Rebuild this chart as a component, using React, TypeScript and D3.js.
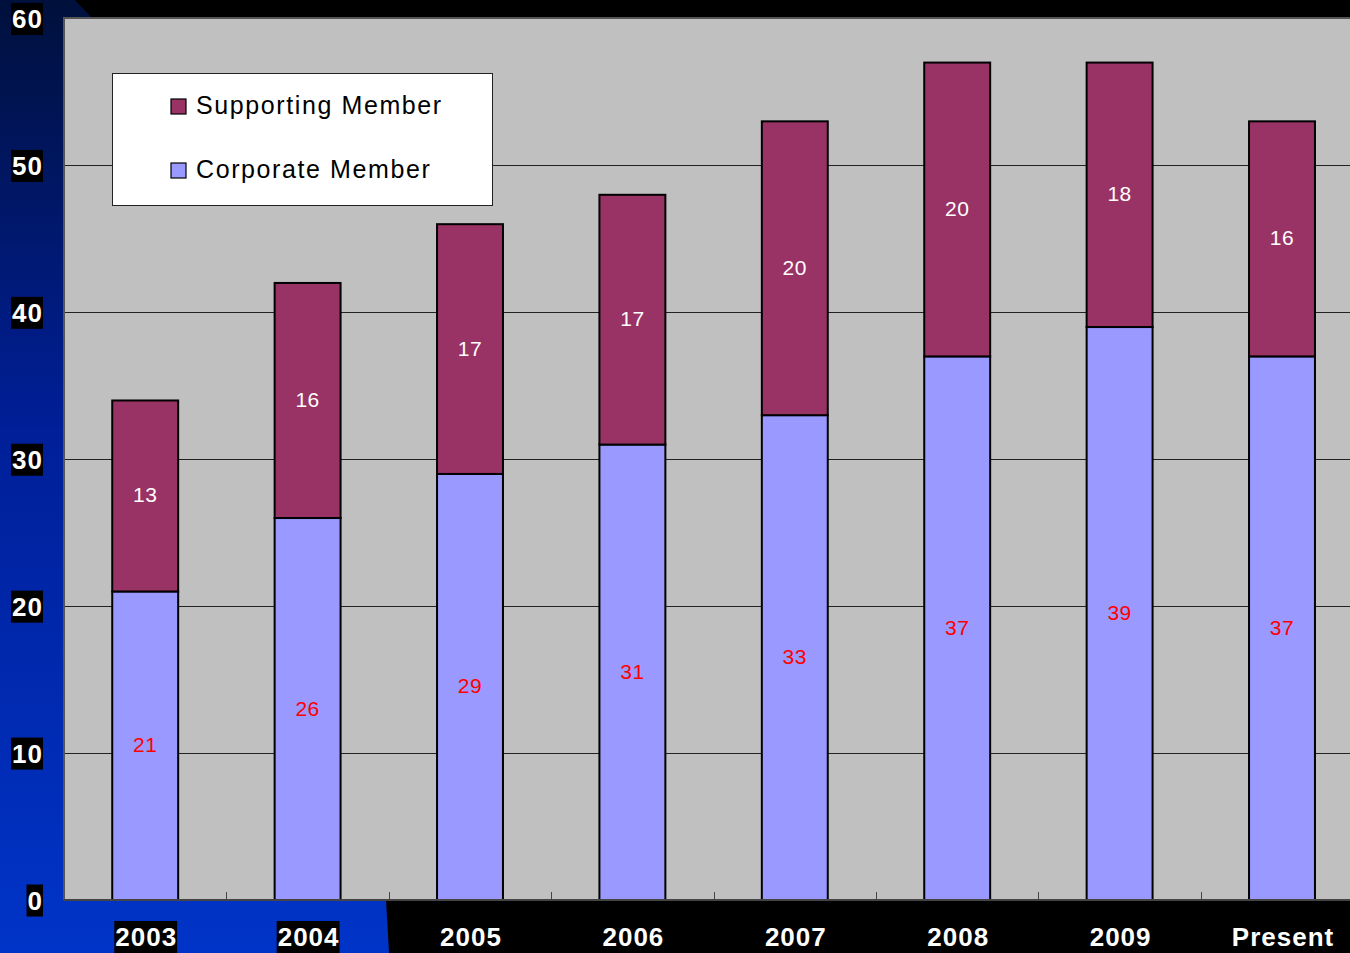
import React, { useEffect, useRef } from "react";
import * as d3 from "d3";

const categories = ["2003", "2004", "2005", "2006", "2007", "2008", "2009", "Present"];
const corporate = [21, 26, 29, 31, 33, 37, 39, 37];
const supporting = [13, 16, 17, 17, 20, 20, 18, 16];
const yTicks = [0, 10, 20, 30, 40, 50, 60];
const seriesNames = ["Supporting Member", "Corporate Member"];

const W = 1350;
const H = 953;

export default function App() {
  const ref = useRef<SVGSVGElement | null>(null);

  useEffect(() => {
    const svg = d3.select(ref.current);
    svg.selectAll("*").remove();

    const left = 64;
    const step = 162.4;
    const x = d3
      .scaleBand<string>()
      .domain(categories)
      .range([left, left + step * categories.length])
      .paddingInner(0.594)
      .paddingOuter(0.297);
    const y = d3.scaleLinear().domain([0, 60]).range([900, 18.5]);

    const defs = svg.append("defs");
    const grad = defs
      .append("linearGradient")
      .attr("id", "bluegrad")
      .attr("x1", 0)
      .attr("y1", 0)
      .attr("x2", 0)
      .attr("y2", 1);
    grad.append("stop").attr("offset", "0%").attr("stop-color", "#00103c");
    grad.append("stop").attr("offset", "45%").attr("stop-color", "#001f98");
    grad.append("stop").attr("offset", "100%").attr("stop-color", "#0034c8");

    // background
    svg.append("rect").attr("width", W).attr("height", H).attr("fill", "#000");
    svg
      .append("path")
      .attr("d", "M0,0 L75,0 L92,18 L386,900 L389,953 L0,953 Z")
      .attr("fill", "url(#bluegrad)");

    // plot area
    const plotRight = left + step * categories.length;
    svg
      .append("rect")
      .attr("x", left)
      .attr("y", 18)
      .attr("width", plotRight - left)
      .attr("height", y(0) - 18)
      .attr("fill", "#c0c0c0");

    // gridlines
    svg
      .append("g")
      .selectAll("line")
      .data(yTicks.filter((t) => t > 0 && t < 60))
      .join("line")
      .attr("x1", left)
      .attr("x2", plotRight)
      .attr("y1", (d) => Math.round(y(d)) + 0.5)
      .attr("y2", (d) => Math.round(y(d)) + 0.5)
      .attr("stroke", "#222")
      .attr("stroke-width", 1);

    // plot border (left, top)
    svg
      .append("path")
      .attr("d", `M${left},${y(0)} L${left},18 L${plotRight},18`)
      .attr("fill", "none")
      .attr("stroke", "#555")
      .attr("stroke-width", 2);

    // bars
    const bw = x.bandwidth();
    const g = svg.append("g");
    categories.forEach((c, i) => {
      const x0 = x(c)!;
      const c0 = y(0);
      const c1 = y(corporate[i]);
      const s1 = y(corporate[i] + supporting[i]);
      g.append("rect")
        .attr("x", x0)
        .attr("y", c1)
        .attr("width", bw)
        .attr("height", c0 - c1)
        .attr("fill", "#9999ff")
        .attr("stroke", "#000")
        .attr("stroke-width", 2);
      g.append("rect")
        .attr("x", x0)
        .attr("y", s1)
        .attr("width", bw)
        .attr("height", c1 - s1)
        .attr("fill", "#993366")
        .attr("stroke", "#000")
        .attr("stroke-width", 2);
      g.append("text")
        .attr("x", x0 + bw / 2)
        .attr("y", (c0 + c1) / 2 - 1)
        .attr("text-anchor", "middle")
        .attr("dominant-baseline", "central")
        .attr("font-family", "Arial, 'Liberation Sans', sans-serif")
        .attr("font-size", 21)
        .attr("letter-spacing", 0.5)
        .attr("fill", "#ff0000")
        .text(String(corporate[i]));
      g.append("text")
        .attr("x", x0 + bw / 2)
        .attr("y", (c1 + s1) / 2 - 1)
        .attr("text-anchor", "middle")
        .attr("dominant-baseline", "central")
        .attr("font-family", "Arial, 'Liberation Sans', sans-serif")
        .attr("font-size", 21)
        .attr("letter-spacing", 0.5)
        .attr("fill", "#ffffff")
        .text(String(supporting[i]));
    });

    // x axis line and ticks
    svg
      .append("line")
      .attr("x1", left)
      .attr("x2", plotRight)
      .attr("y1", y(0))
      .attr("y2", y(0))
      .attr("stroke", "#444")
      .attr("stroke-width", 2);
    const bounds = categories.slice(1).map((c) => x(c)! - (x.step() - bw) / 2);
    svg
      .append("g")
      .selectAll("line")
      .data(bounds)
      .join("line")
      .attr("x1", (d) => Math.round(d) + 0.5)
      .attr("x2", (d) => Math.round(d) + 0.5)
      .attr("y1", y(0))
      .attr("y2", y(0) - 8)
      .attr("stroke", "#444")
      .attr("stroke-width", 1);

    // labels with black boxes
    const boxedText = (
      tx: number,
      ty: number,
      txt: string,
      anchor: string
    ) => {
      const grp = svg.append("g");
      const rect = grp.append("rect").attr("fill", "#000");
      const t = grp
        .append("text")
        .attr("x", tx)
        .attr("y", ty)
        .attr("text-anchor", anchor)
        .attr("dominant-baseline", "central")
        .attr("font-family", "Arial, 'Liberation Sans', sans-serif")
        .attr("font-weight", "bold")
        .attr("font-size", 26)
        .attr("letter-spacing", 1)
        .attr("fill", "#fff")
        .text(txt);
      const bb = (t.node() as SVGTextElement).getBBox();
      rect
        .attr("x", bb.x - 1)
        .attr("y", ty - 16)
        .attr("width", bb.width + 1)
        .attr("height", 32);
    };

    yTicks.forEach((t) => boxedText(43, y(t) + 0.5, String(t), "end"));
    categories.forEach((c) => boxedText(x(c)! + bw / 2 + 1, 937, c, "middle"));

    // legend
    const lg = svg.append("g");
    lg.append("rect")
      .attr("x", 112.5)
      .attr("y", 73.5)
      .attr("width", 380)
      .attr("height", 132)
      .attr("fill", "#fff")
      .attr("stroke", "#222")
      .attr("stroke-width", 1);
    const legendColors = ["#993366", "#9999ff"];
    seriesNames.forEach((name, i) => {
      const cy = 106 + i * 64;
      lg.append("rect")
        .attr("x", 171)
        .attr("y", cy - 7)
        .attr("width", 15)
        .attr("height", 15)
        .attr("fill", legendColors[i])
        .attr("stroke", "#000")
        .attr("stroke-width", 1.2);
      lg.append("text")
        .attr("x", 196)
        .attr("y", cy - 1)
        .attr("dominant-baseline", "central")
        .attr("font-family", "Arial, 'Liberation Sans', sans-serif")
        .attr("font-size", 25)
        .attr("letter-spacing", 1.6)
        .attr("fill", "#000")
        .text(name);
    });
  }, []);

  return (
    <svg
      ref={ref}
      width={W}
      height={H}
      style={{ position: "absolute", left: 0, top: 0, display: "block" }}
    />
  );
}
